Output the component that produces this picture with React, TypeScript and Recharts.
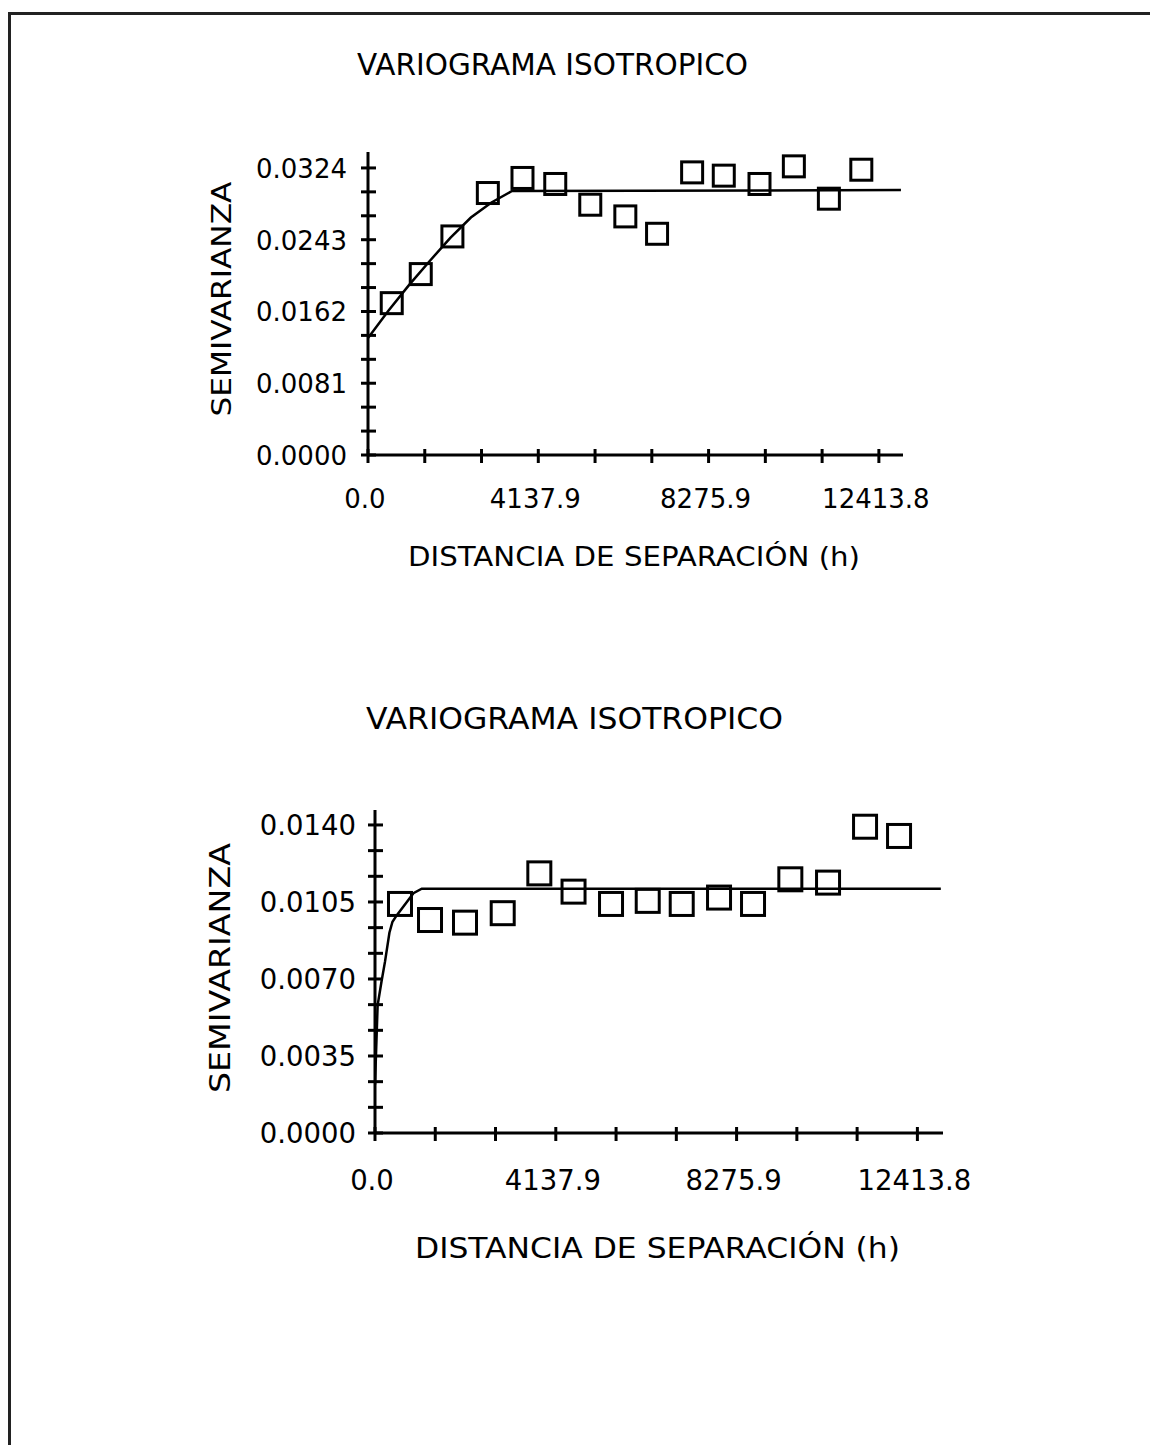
import React from 'react';
import { ComposedChart, Line, Scatter, XAxis, YAxis } from 'recharts';

// lag distances (h) and experimental semivariances, upper variogram
const lagsTop = [577, 1282, 2051, 2912, 3754, 4550, 5401, 6253, 7024, 7876, 8645, 9513, 10348, 11199, 11987];
const gammaTop = [0.01714, 0.02042, 0.02467, 0.02957, 0.03127, 0.03059, 0.02825, 0.02693, 0.02497, 0.0319, 0.03153, 0.03059, 0.03258, 0.02893, 0.0322];
// fitted model
const modelHTop = [0, 500, 1000, 1500, 2000, 2500, 3000, 3500, 12950];
const modelGTop = [0.0132, 0.0163, 0.0192, 0.0219, 0.0245, 0.0268, 0.0285, 0.0298, 0.0299];

// lower variogram
const lagsBottom = [572, 1259, 2060, 2923, 3761, 4544, 5402, 6242, 7020, 7874, 8652, 9506, 10369, 11216, 11994];
const gammaBottom = [0.01041, 0.00968, 0.00956, 0.00999, 0.0118, 0.01097, 0.01041, 0.01055, 0.01041, 0.0107, 0.01041, 0.01153, 0.01138, 0.01392, 0.0135];
const modelHBottom = [0, 60, 150, 230, 330, 400, 500, 880, 1070, 12950];
const modelGBottom = [0.0022, 0.0058, 0.0069, 0.0078, 0.0091, 0.0096, 0.0099, 0.0109, 0.0111, 0.0111];

// axis ticks (every third one carries a label)
const xTicks = [0, 1379.31, 2758.62, 4137.93, 5517.24, 6896.55, 8275.86, 9655.17, 11034.48, 12413.79];
const yTicksTop = [0, 0.0027, 0.0054, 0.0081, 0.0108, 0.0135, 0.0162, 0.0189, 0.0216, 0.0243, 0.027, 0.0297, 0.0324];
const yTicksBottom = [0, 0.0011667, 0.0023333, 0.0035, 0.0046667, 0.0058333, 0.007, 0.0081667, 0.0093333, 0.0105, 0.0116667, 0.0128333, 0.014];

const title = 'VARIOGRAMA ISOTROPICO';
const xLabel = 'DISTANCIA DE SEPARACIÓN (h)';
const yLabel = 'SEMIVARIANZA';

const FONT = '"DejaVu Sans", Verdana, sans-serif';
const Y_AXIS_W = 60;
const X_AXIS_H = 30;

const topCfg = {
  top: 0, width: 930, height: 600,
  plotLeft: 368, plotRight: 903, plotTop: 152, plotBottom: 455,
  yMax: 0.0342, square: 21, tickFont: 26,
  yTickGap: 21, xTickDrop: 53,
  titleX: 357, titleY: 75, titleSize: 29.5, titleLen: 391,
  xLabelX: 408, xLabelY: 566, xLabelSize: 27, xLabelLen: 452,
  yLabelX: 231, yLabelY: 299, yLabelSize: 27, yLabelLen: 235,
};

const bottomCfg = {
  top: 640, width: 1150, height: 660,
  plotLeft: 375, plotRight: 943, plotTop: 170, plotBottom: 493,
  yMax: 0.01468, square: 23, tickFont: 27.5,
  yTickGap: 19, xTickDrop: 57,
  titleX: 366, titleY: 89, titleSize: 31, titleLen: 417,
  xLabelX: 415, xLabelY: 618, xLabelSize: 28.5, xLabelLen: 485,
  yLabelX: 230, yLabelY: 328, yLabelSize: 28, yLabelLen: 250,
};

function Variogram({ cfg, lags, gamma, modelH, modelG, yTicks }: any) {
  const points = lags.map((h: number, i: number) => ({ h, g: gamma[i] }));
  const model = modelH.map((h: number, i: number) => ({ h, g: modelG[i] }));

  const renderXTick = (p: any) => {
    const idx = p.index;
    return (
      <g key={`xt-${idx}`}>
        <line x1={p.x} x2={p.x} y1={p.y - 6} y2={p.y + 8} stroke="#000" strokeWidth={3} />
        {idx % 3 === 0 && (
          <text x={p.x - 3} y={p.y + cfg.xTickDrop} textAnchor="middle" fontFamily={FONT} fontSize={cfg.tickFont} fill="#000">
            {Number(p.payload.value).toFixed(1)}
          </text>
        )}
      </g>
    );
  };

  const renderYTick = (p: any) => {
    const idx = p.index;
    return (
      <g key={`yt-${idx}`}>
        <line x1={p.x - 7} x2={p.x + 8} y1={p.y} y2={p.y} stroke="#000" strokeWidth={3} />
        {idx % 3 === 0 && (
          <text x={p.x - cfg.yTickGap} y={p.y + 10} textAnchor="end" fontFamily={FONT} fontSize={cfg.tickFont} fill="#000">
            {Number(p.payload.value).toFixed(4)}
          </text>
        )}
      </g>
    );
  };

  const renderSquare = (p: any) => {
    const s = cfg.square;
    return <rect x={p.cx - s / 2} y={p.cy - s / 2} width={s} height={s} fill="none" stroke="#000" strokeWidth={3} />;
  };

  return (
    <div style={{ position: 'absolute', left: 0, top: cfg.top, width: cfg.width, height: cfg.height, overflow: 'hidden' }}>
      <ComposedChart
        width={cfg.width}
        height={cfg.height}
        margin={{
          top: cfg.plotTop,
          left: cfg.plotLeft - Y_AXIS_W,
          right: cfg.width - cfg.plotRight,
          bottom: cfg.height - cfg.plotBottom - X_AXIS_H,
        }}
      >
        <XAxis
          type="number"
          dataKey="h"
          domain={[0, 13000]}
          ticks={xTicks}
          interval={0}
          height={X_AXIS_H}
          tickSize={0}
          tickMargin={0}
          tickLine={false}
          axisLine={{ stroke: '#000', strokeWidth: 3 }}
          tick={renderXTick}
          allowDataOverflow
        />
        <YAxis
          type="number"
          domain={[0, cfg.yMax]}
          ticks={yTicks}
          interval={0}
          width={Y_AXIS_W}
          tickSize={0}
          tickMargin={0}
          tickLine={false}
          axisLine={{ stroke: '#000', strokeWidth: 3 }}
          tick={renderYTick}
          allowDataOverflow
        />
        <Scatter data={points} dataKey="g" shape={renderSquare} isAnimationActive={false} />
        <Line data={model} dataKey="g" type="linear" stroke="#000" strokeWidth={2.5} dot={false} activeDot={false} isAnimationActive={false} />
      </ComposedChart>
      <svg width={cfg.width} height={cfg.height} style={{ position: 'absolute', left: 0, top: 0, pointerEvents: 'none' }}>
        <text x={cfg.titleX} y={cfg.titleY} fontFamily={FONT} fontSize={cfg.titleSize} textLength={cfg.titleLen} lengthAdjust="spacingAndGlyphs" fill="#000">
          {title}
        </text>
        <text x={cfg.xLabelX} y={cfg.xLabelY} fontFamily={FONT} fontSize={cfg.xLabelSize} textLength={cfg.xLabelLen} lengthAdjust="spacingAndGlyphs" fill="#000">
          {xLabel}
        </text>
        <text
          x={cfg.yLabelX}
          y={cfg.yLabelY}
          transform={`rotate(-90 ${cfg.yLabelX} ${cfg.yLabelY})`}
          textAnchor="middle"
          fontFamily={FONT}
          fontSize={cfg.yLabelSize}
          textLength={cfg.yLabelLen}
          lengthAdjust="spacingAndGlyphs"
          fill="#000"
        >
          {yLabel}
        </text>
      </svg>
    </div>
  );
}

export default function App() {
  return (
    <div style={{ position: 'absolute', left: 0, top: 0, width: 1150, height: 1445, background: '#fff', overflow: 'hidden' }}>
      <div style={{ position: 'absolute', left: 8, top: 12, width: 1150, height: 1445, borderLeft: '3px solid #222', borderTop: '3px solid #222' }} />
      <Variogram cfg={topCfg} lags={lagsTop} gamma={gammaTop} modelH={modelHTop} modelG={modelGTop} yTicks={yTicksTop} />
      <Variogram cfg={bottomCfg} lags={lagsBottom} gamma={gammaBottom} modelH={modelHBottom} modelG={modelGBottom} yTicks={yTicksBottom} />
    </div>
  );
}
